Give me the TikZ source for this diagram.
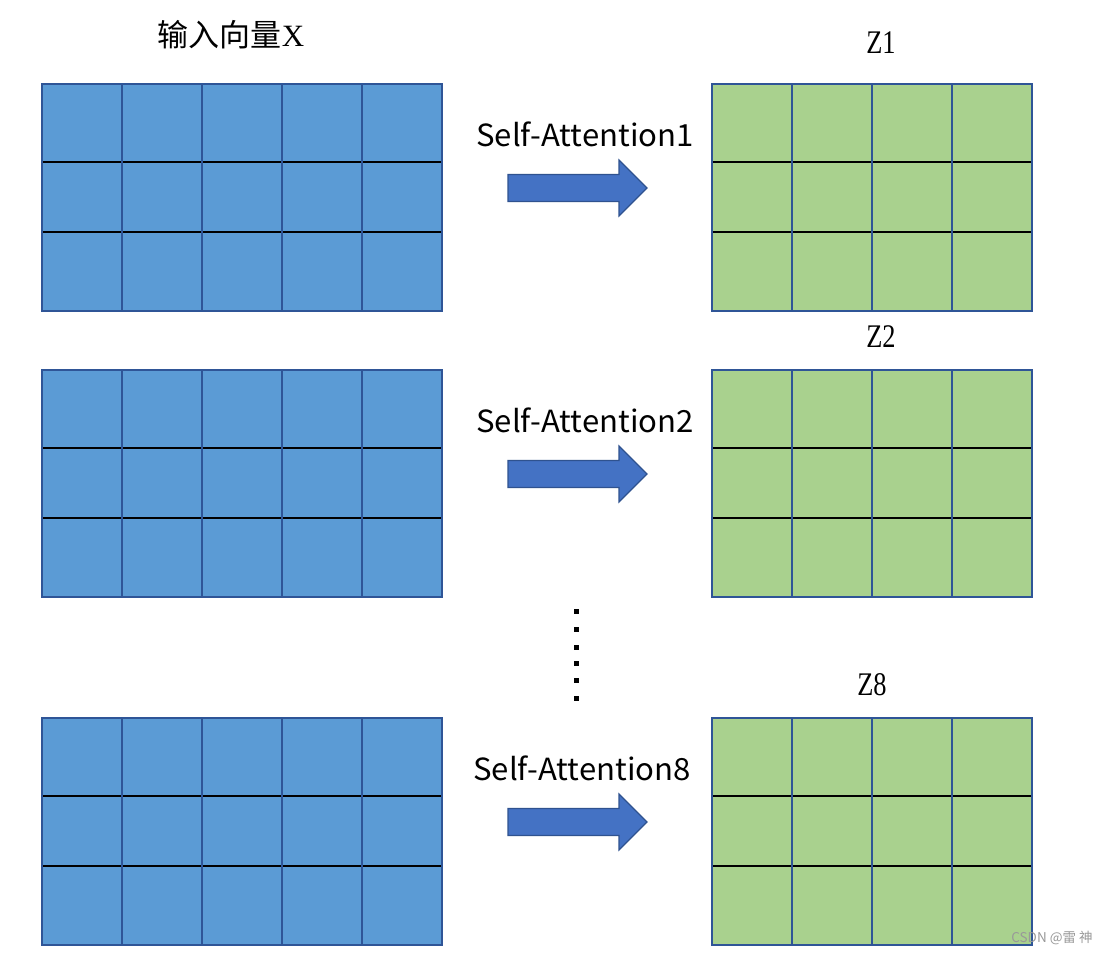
\documentclass[tikz,border=0pt]{standalone}
\usepackage{fontspec}
\setmainfont{Liberation Serif}
\newfontfamily\cjk{Noto Sans CJK SC}
\definecolor{cellblue}{HTML}{5B9BD5}
\definecolor{cellgreen}{HTML}{A9D18E}
\definecolor{edgeblue}{HTML}{2F5597}
\definecolor{arrowfill}{HTML}{4472C4}
\definecolor{arrowedge}{HTML}{2F528F}
\tikzset{
  gridbox/.style={draw=edgeblue, line width=2pt, inner sep=0pt, outer sep=0pt, anchor=north west},
  rowline/.style={draw=black, line width=2.2pt},
  colline/.style={draw=edgeblue, line width=2pt},
  bigarrow/.style={fill=arrowfill, draw=arrowedge, line width=1.2pt, line join=miter},
  attlabel/.style={font=\cjk\fontsize{30.5}{32}\selectfont, inner sep=0pt, xscale=1.02, transform shape},
  zlabel/.style={font=\fontsize{33}{35}\selectfont, inner sep=0pt, xscale=0.8, transform shape},
  dotbox/.style={fill=black, inner sep=0pt, minimum size=5pt},
}
% #1 name, #2 x, #3 y, #4 last column index, #5 fill
\newcommand\mygrid[5]{%
  \node[gridbox, fill=#5, minimum width={(#4+1)*80pt}, minimum height=227pt] (#1) at (#2,#3) {};
  \draw[rowline] ([yshift=-78pt]#1.north west) -- ([yshift=-78pt]#1.north east);
  \draw[rowline] ([yshift=-148pt]#1.north west) -- ([yshift=-148pt]#1.north east);
  \foreach \i in {1,...,#4} {
    \draw[colline] ([xshift=\i*80pt]#1.north west) -- ([xshift=\i*80pt]#1.south west);
  }
  \node[gridbox, fill=none, minimum width={(#4+1)*80pt}, minimum height=227pt] at (#2,#3) {};
}
% #1 name, #2 y centre
\newcommand\myarrow[2]{%
  \coordinate (#1tail) at (508,#2);
  \coordinate (#1tip) at (647,#2);
  \draw[bigarrow] ([yshift=13.5pt]#1tail) -- ([yshift=13.5pt,xshift=-28pt]#1tip)
     -- ([yshift=28pt,xshift=-28pt]#1tip) -- (#1tip)
     -- ([yshift=-28pt,xshift=-28pt]#1tip) -- ([yshift=-13.5pt,xshift=-28pt]#1tip)
     -- ([yshift=-13.5pt]#1tail) -- cycle;
}
\begin{document}
\begin{tikzpicture}[x=1pt,y=-1pt]
\useasboundingbox (0,0) rectangle (1106,954);
\fill[white] (0,0) rectangle (1106,954);

\node[font=\cjk\fontsize{31}{33}\selectfont, inner sep=0pt] (title) at (231,35) {输入向量\textrm{X}};

\mygrid{x1}{42}{84}{4}{cellblue}
\mygrid{x2}{42}{370}{4}{cellblue}
\mygrid{x3}{42}{718}{4}{cellblue}

\mygrid{z1}{712}{84}{3}{cellgreen}
\mygrid{z2}{712}{370}{3}{cellgreen}
\mygrid{z3}{712}{718}{3}{cellgreen}

\node[zlabel] (lz1) at (881,43) {Z1};
\node[zlabel] (lz2) at (881,337) {Z2};
\node[zlabel] (lz8) at (872,685) {Z8};

\node[attlabel] (sa1) at (585,134) {Self-Attention1};
\node[attlabel] (sa2) at (585,420) {Self-Attention2};
\node[attlabel] (sa8) at (582,768) {Self-Attention8};

\myarrow{a1}{188}
\myarrow{a2}{474}
\myarrow{a3}{822}

\foreach \yy [count=\k] in {611,629.5,647,663,680,698}
  \node[dotbox] (dot\k) at (576,\yy) {};

\node[font=\cjk\fontsize{13.5}{14}\selectfont, text=black!40, inner sep=0pt] (wm) at (1052,938) {CSDN @雷 神};
\end{tikzpicture}
\end{document}
